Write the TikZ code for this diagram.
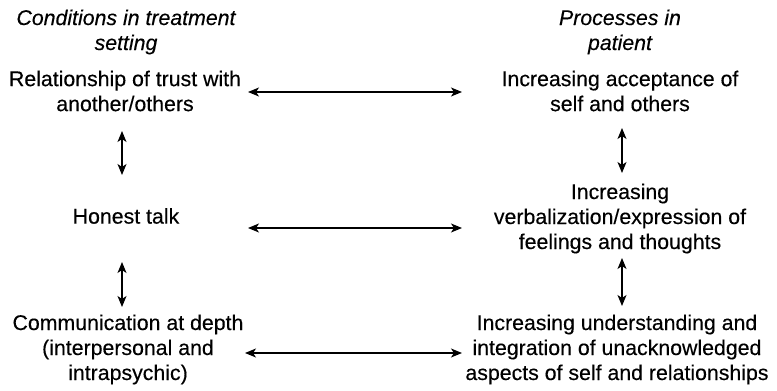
\documentclass[tikz,border=0pt]{standalone}
\usepackage{fontspec}
\setmainfont[FakeBold=0.3]{Liberation Sans}
\usetikzlibrary{arrows.meta}
\begin{document}
\begin{tikzpicture}[x=1pt,y=-1pt,
  lbl/.style={align=center,font=\fontsize{21.3}{25}\selectfont,inner sep=0pt},
  head/.style={lbl,font=\fontsize{21.3}{25}\selectfont\itshape},
  link/.style={{Stealth[length=11pt,width=9pt,inset=3pt]}-{Stealth[length=11pt,width=9pt,inset=3pt]},line width=1.5pt}]
\useasboundingbox (0,0) rectangle (777,391);
% column headings
\node[head] (hl) at (126,32) {Conditions in treatment\\setting};
\node[head] (hr) at (620,32) {Processes in\\patient};
% left column: conditions
\node[lbl] (l1) at (125,91) {Relationship of trust with\\another/others};
\node[lbl] (l2) at (126,216) {Honest talk};
\node[lbl] (l3) at (128,349.5) {Communication at depth\\(interpersonal and\\intrapsychic)};
% right column: processes
\node[lbl] (r1) at (620,91) {Increasing acceptance of\\self and others};
\node[lbl] (r2) at (620,218.5) {Increasing\\verbalization/expression of\\feelings and thoughts};
\node[lbl] (r3) at (617,349.5) {Increasing understanding and\\integration of unacknowledged\\aspects of self and relationships};
% end points of the connectors
\coordinate (a1) at (248,92);  \coordinate (b1) at (462,92);
\coordinate (a2) at (248,228); \coordinate (b2) at (462,228);
\coordinate (a3) at (245,353); \coordinate (b3) at (462,353);
\coordinate (v1t) at (122,131); \coordinate (v1b) at (122,175);
\coordinate (v2t) at (122,262); \coordinate (v2b) at (122,307);
\coordinate (w1t) at (622,128); \coordinate (w1b) at (622,173);
\coordinate (w2t) at (622,258); \coordinate (w2b) at (622,306);
% horizontal links
\draw[link] (a1) -- (b1);
\draw[link] (a2) -- (b2);
\draw[link] (a3) -- (b3);
% vertical links
\draw[link] (v1t) -- (v1b);
\draw[link] (v2t) -- (v2b);
\draw[link] (w1t) -- (w1b);
\draw[link] (w2t) -- (w2b);
\end{tikzpicture}
\end{document}
